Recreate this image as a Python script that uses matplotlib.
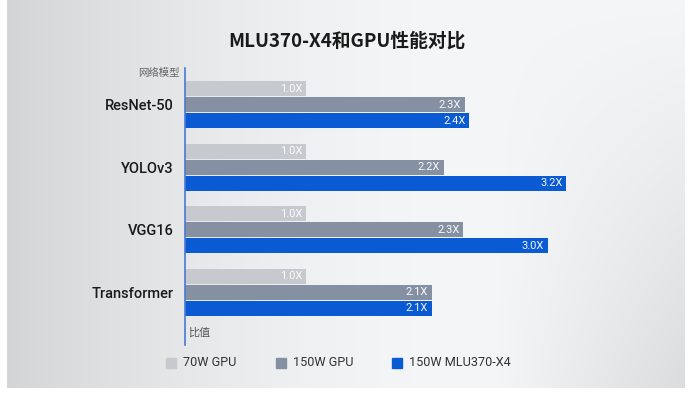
import numpy as np
import matplotlib
matplotlib.use("Agg")
import matplotlib.pyplot as plt
from matplotlib.patches import Rectangle

plt.rcParams['font.family'] = ['Noto Sans CJK SC', 'DejaVu Sans']

title = "MLU370-X4和GPU性能对比"
models = ["ResNet-50", "YOLOv3", "VGG16", "Transformer"]
series = ["70W GPU", "150W GPU", "150W MLU370-X4"]
gpu70 = [1.0, 1.0, 1.0, 1.0]
gpu150 = [2.31, 2.14, 2.30, 2.04]
mlu370 = [2.35, 3.15, 3.00, 2.04]
gpu70_labels = ["1.0X", "1.0X", "1.0X", "1.0X"]
gpu150_labels = ["2.3X", "2.2X", "2.3X", "2.1X"]
mlu370_labels = ["2.4X", "3.2X", "3.0X", "2.1X"]
colors = ["#c6c9cd", "#8590a2", "#0a5bd3"]

W, H = 694, 398
fig = plt.figure(figsize=(W / 100, H / 100), dpi=100)
fig.patch.set_facecolor("white")

# background gradient panel
bg = fig.add_axes([7 / W, 10 / H, (685 - 7) / W, (398 - 10) / H])
nx, ny = 300, 200
xx, yy = np.meshgrid(np.linspace(0, 1, nx), np.linspace(0, 1, ny))
val = 0.968 - 0.13 * np.clip(1 - xx / 0.65, 0, 1) ** 1.6 \
      - 0.10 * np.clip((xx - 0.72) / 0.28, 0, 1) * yy ** 1.1
img = np.dstack([val * 0.99, val * 0.995, val * 1.0])
img = np.clip(img, 0, 1)
bg.imshow(img, aspect="auto", extent=[0, 1, 1, 0], interpolation="bilinear")
bg.set_axis_off()

# main axes
x0_px, top_px, bot_px = 185, 68, 345
unit_px = 121.0
ax_w_px = 4 * unit_px
ax = fig.add_axes([x0_px / W, (H - bot_px) / H, ax_w_px / W, (bot_px - top_px) / H])
ax.set_facecolor("none")
spacing_px = 62.5
first_c = (104.5 - top_px) / spacing_px
total = (bot_px - top_px) / spacing_px
ax.set_xlim(0, 4)
ax.set_ylim(total - first_c, -first_c)

bh = 15 / spacing_px
off = 16 / spacing_px
ypos = np.arange(len(models))
data = [gpu70, gpu150, mlu370]
labels = [gpu70_labels, gpu150_labels, mlu370_labels]
for k in range(3):
    yk = ypos + (k - 1) * off
    ax.barh(yk, data[k], height=bh, color=colors[k], edgecolor="none")
    for yv, v, lab in zip(yk, data[k], labels[k]):
        ax.text(v - 0.03, yv, lab, ha="right", va="center", color="white",
                fontsize=8, family=["Roboto", "DejaVu Sans"], alpha=0.95)

for s in ["top", "right", "bottom"]:
    ax.spines[s].set_visible(False)
ax.spines["left"].set_color("#4a78d0")
ax.spines["left"].set_linewidth(1.2)
ax.set_xticks([])
ax.set_yticks(ypos)
ax.set_yticklabels(models, fontsize=10.5, color="#1a1a1a", fontweight="medium",
                   family=["Roboto", "DejaVu Sans"])
ax.tick_params(axis="y", length=0, pad=8)

fig.text(180 / W, 1 - 73 / H, "网络模型", ha="right", va="center", fontsize=7.5,
         color="#666666")
fig.text(188 / W, 1 - 333 / H, "比值", ha="left", va="center", fontsize=8,
         color="#555555")
fig.text(347 / W, 1 - 41 / H, title, ha="center", va="center", fontsize=13.5,
         fontweight="bold", color="#1a1a1a")

# legend
leg_x = [166, 276, 392]
for k in range(3):
    fig.patches.append(Rectangle((leg_x[k] / W, 1 - 368 / H), 10 / W, 10 / H,
                                 transform=fig.transFigure, color=colors[k]))
    fig.text((leg_x[k] + 17) / W, 1 - 363 / H, series[k], ha="left", va="center",
             fontsize=9.1, color="#333333", family=["Roboto", "DejaVu Sans"])

fig.savefig("out.png", dpi=100, facecolor="white")
